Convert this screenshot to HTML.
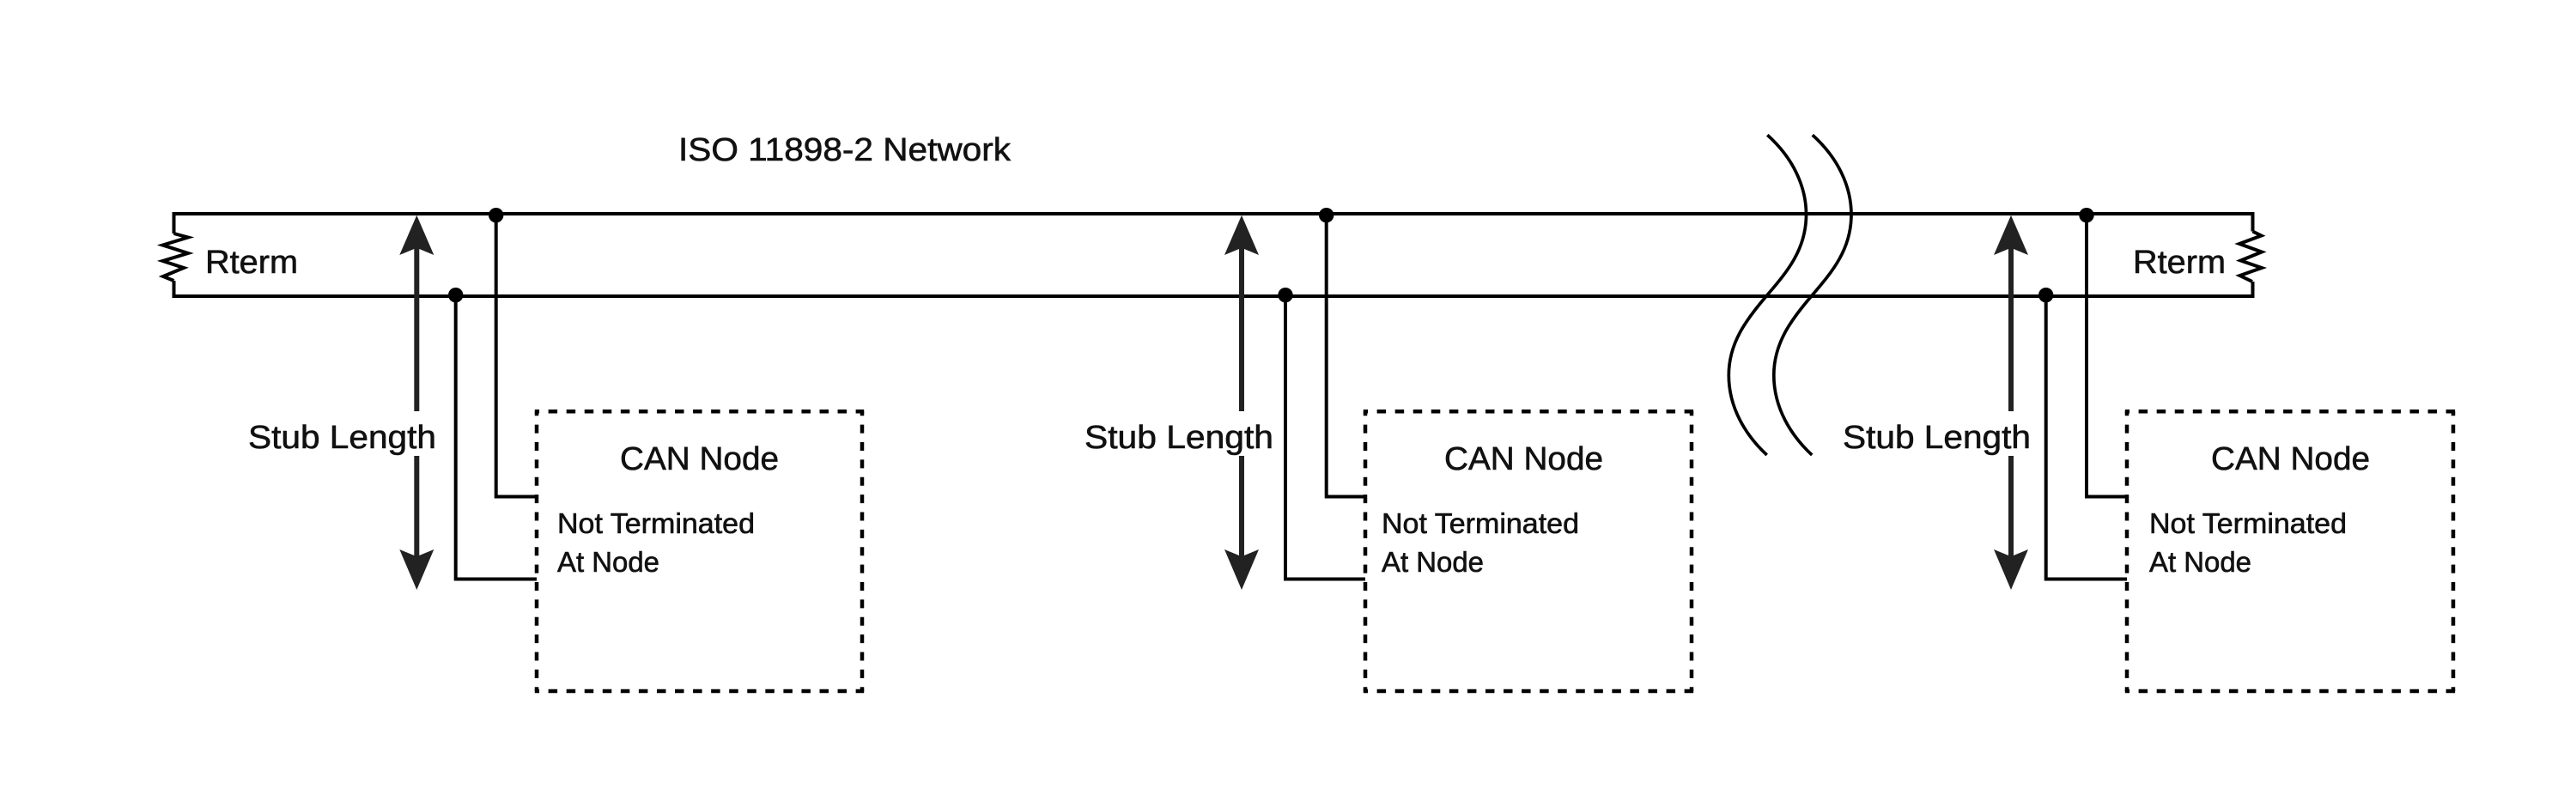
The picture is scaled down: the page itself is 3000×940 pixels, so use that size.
<!DOCTYPE html>
<html><head><meta charset="utf-8"><style>html,body{margin:0;padding:0;background:#fff}svg{display:block}text{font-family:"Liberation Sans",sans-serif;fill:#111;stroke:#111;stroke-width:.6px}</style></head><body>
<svg width="3000" height="940" viewBox="0 0 3000 940" xmlns="http://www.w3.org/2000/svg">
<g fill="none" stroke="#000" stroke-width="4">
<path d="M202.500 272V249H2623.500V269.500"/>
<path d="M202.500 327V345H2623.500V328"/>
<path d="M202.500 272L219 276.500L189.500 285.500L219 295L189.500 304L214 312L190 322L202.500 327"/>
<path d="M2623.500 269.500L2633.500 274.500L2608 284L2634 293.500L2609.500 303.500L2634 312L2608.500 321L2623 328"/>
<path d="M577.700 250V578.500H625M530.700 344V674.500H625"/>
<path d="M1544.700 250V578.500H1590M1497 344V674.500H1590"/>
<path d="M2430 250V578.500H2477M2382.700 344V674.500H2477"/>
<g stroke-width="4.500" stroke-dasharray="10.500 10.560" stroke-dashoffset="5.250">
<path d="M622.800 479.300H1006.200M622.800 805H1006.200"/>
<path d="M1587.800 479.300H1972.200M1587.800 805H1972.200"/>
<path d="M2474.800 479.300H2859.200M2474.800 805H2859.200"/>
</g>
<g stroke-width="4.500" stroke-dasharray="10 10.375" stroke-dashoffset="5">
<path d="M625 479.300V805.300M1004 479.300V805.300"/>
<path d="M1590 479.300V805.300M1970 479.300V805.300"/>
<path d="M2477 479.300V805.300M2857 479.300V805.300"/>
</g>
<g stroke-width="3.700">
<path d="M2058.300 157.300C2088 184 2103.500 217 2103.500 250C2103.500 290 2082 316 2057 345C2033 373 2013.300 400 2013.300 437C2013.300 475 2033 507 2057.700 530"/>
<path d="M2110.800 157.300C2140.500 184 2156 217 2156 250C2156 290 2134.500 316 2109.500 345C2085.500 373 2065.800 400 2065.800 437C2065.800 475 2085.500 507 2110.200 530"/>
</g>
</g>
<g fill="#000">
<circle cx="577.700" cy="250.700" r="8.700"/><circle cx="530.700" cy="343.700" r="8.700"/>
<circle cx="1544.700" cy="250.700" r="8.700"/><circle cx="1497" cy="343.700" r="8.700"/>
<circle cx="2430" cy="250.700" r="8.700"/><circle cx="2382.700" cy="343.700" r="8.700"/>
</g>
<g fill="#222" stroke="none">
<path d="M485.300 250.700L505.300 297L488.300 290V479H482.300V290L465.300 297ZM482.300 531H488.300V647L505.300 640L485.300 687L465.300 640L482.300 647Z"/>
<path d="M1446 250.700L1466 297L1449 290V479H1443V290L1426 297ZM1443 531H1449V647L1466 640L1446 687L1426 640L1443 647Z"/>
<path d="M2342 250.700L2362 297L2345 290V479H2339V290L2322 297ZM2339 531H2345V647L2362 640L2342 687L2322 640L2339 647Z"/>
</g>
<g font-size="38">
<text x="790" y="187" textLength="387" lengthAdjust="spacingAndGlyphs">ISO 11898-2 Network</text>
<text x="239" y="318" textLength="108" lengthAdjust="spacingAndGlyphs">Rterm</text>
<text x="2484" y="318" textLength="108" lengthAdjust="spacingAndGlyphs">Rterm</text>
<text x="289" y="522" textLength="219" lengthAdjust="spacingAndGlyphs">Stub Length</text>
<text x="1263" y="522" textLength="220" lengthAdjust="spacingAndGlyphs">Stub Length</text>
<text x="2146" y="522" textLength="219" lengthAdjust="spacingAndGlyphs">Stub Length</text>
<text x="722" y="547" textLength="185" lengthAdjust="spacingAndGlyphs">CAN Node</text>
<text x="1682" y="547" textLength="185" lengthAdjust="spacingAndGlyphs">CAN Node</text>
<text x="2575" y="547" textLength="185" lengthAdjust="spacingAndGlyphs">CAN Node</text>
</g>
<g font-size="33">
<text x="649" y="621" textLength="230" lengthAdjust="spacingAndGlyphs">Not Terminated</text>
<text x="649" y="666" textLength="119" lengthAdjust="spacingAndGlyphs">At Node</text>
<text x="1609" y="621" textLength="230" lengthAdjust="spacingAndGlyphs">Not Terminated</text>
<text x="1609" y="666" textLength="119" lengthAdjust="spacingAndGlyphs">At Node</text>
<text x="2503" y="621" textLength="230" lengthAdjust="spacingAndGlyphs">Not Terminated</text>
<text x="2503" y="666" textLength="119" lengthAdjust="spacingAndGlyphs">At Node</text>
</g>
</svg>
</body></html>
